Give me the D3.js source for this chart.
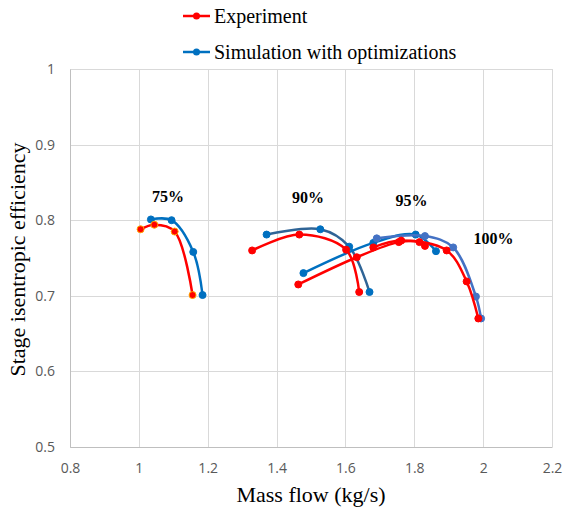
<!DOCTYPE html>
<html><head><meta charset="utf-8">
<script src="https://cdn.jsdelivr.net/npm/d3@7"></script>
<style>
html,body{margin:0;padding:0;background:#fff;}
svg{display:block;}
</style></head>
<body>
<svg id="chart" width="569" height="510"></svg>
<script>
// ---- data ----
const xTicks = [0.8, 1, 1.2, 1.4, 1.6, 1.8, 2, 2.2];
const yTicks = [0.5, 0.6, 0.7, 0.8, 0.9, 1];
const xTickLabels = ["0.8", "1", "1.2", "1.4", "1.6", "1.8", "2", "2.2"];
const yTickLabels = ["0.5", "0.6", "0.7", "0.8", "0.9", "1"];

const exp75 = [[1.005, 0.788], [1.045, 0.794], [1.104, 0.785], [1.156, 0.701]];
const sim75 = [[1.035, 0.801], [1.095, 0.800], [1.158, 0.758], [1.185, 0.701]];
const exp90 = [[1.329, 0.760], [1.466, 0.781], [1.602, 0.761], [1.640, 0.705]];
const sim90 = [[1.371, 0.781], [1.527, 0.788], [1.611, 0.765], [1.670, 0.705]];
const exp95 = [[1.463, 0.715], [1.633, 0.751], [1.755, 0.771], [1.815, 0.771], [1.831, 0.766]];
const sim95 = [[1.478, 0.730], [1.681, 0.770], [1.804, 0.781], [1.863, 0.759]];
const exp100 = [[1.681, 0.764], [1.762, 0.773], [1.894, 0.760], [1.952, 0.719], [1.986, 0.670]];
const sim100 = [[1.691, 0.776], [1.831, 0.779], [1.913, 0.764], [1.979, 0.699], [1.994, 0.670]];

const speedLabels = ["75%", "90%", "95%", "100%"];
const speedLabelPos = [[1.085, 0.824], [1.491, 0.8225], [1.792, 0.819], [2.03, 0.768]];

const legendLabels = ["Experiment", "Simulation with optimizations"];
const xTitle = "Mass flow (kg/s)";
const yTitle = "Stage isentropic efficiency";

// ---- chart ----
const svg = d3.select("#chart");
const x = d3.scaleLinear().domain([0.8, 2.2]).range([70, 552]);
const y = d3.scaleLinear().domain([0.5, 1]).range([447, 69]);

const grid = "#d9d9d9";
svg.append("g").selectAll("line").data(yTicks).join("line")
  .attr("x1", x(0.8)).attr("x2", x(2.2))
  .attr("y1", d => Math.round(y(d)) + 0.5).attr("y2", d => Math.round(y(d)) + 0.5)
  .attr("stroke", grid).attr("stroke-width", 1);
svg.append("g").selectAll("line").data(xTicks).join("line")
  .attr("y1", y(0.5)).attr("y2", y(1))
  .attr("x1", d => Math.round(x(d)) + 0.5).attr("x2", d => Math.round(x(d)) + 0.5)
  .attr("stroke", grid).attr("stroke-width", 1);

const xAxis = d3.axisBottom(x).tickValues(xTicks).tickSize(0).tickPadding(16)
  .tickFormat((d, i) => xTickLabels[i]);
const yAxis = d3.axisLeft(y).tickValues(yTicks).tickSize(0).tickPadding(15)
  .tickFormat((d, i) => yTickLabels[i]);
const gx = svg.append("g").attr("transform", `translate(0,${y(0.5)})`).call(xAxis);
const gy = svg.append("g").attr("transform", `translate(${x(0.8)},0)`).call(yAxis);
[gx, gy].forEach(g => {
  g.select(".domain").attr("stroke", "#bfbfbf");
  g.selectAll("text").attr("fill", "#595959")
    .style("font-family", "'Open Sans', 'Liberation Sans', sans-serif").style("font-size", "14px");
});

const line = d3.line().x(d => x(d[0])).y(d => y(d[1])).curve(d3.curveCatmullRom.alpha(0.5));
const series = [
  {data: sim75, line: "#0070c0", fill: "#0070c0", stroke: "#0070c0"},
  {data: sim90, line: "#2f6496", fill: "#0070c0", stroke: "#0070c0"},
  {data: sim95, line: "#0070c0", fill: "#0070c0", stroke: "#0070c0"},
  {data: sim100, line: "#4472c4", fill: "#4472c4", stroke: "#4472c4"},
  {data: exp75, line: "#ff0000", fill: "#ff0000", stroke: "#ffa500"},
  {data: exp90, line: "#ff0000", fill: "#ff0000", stroke: "#ff0000"},
  {data: exp95, line: "#ff0000", fill: "#ff0000", stroke: "#ff0000"},
  {data: exp100, line: "#ff0000", fill: "#ff0000", stroke: "#ff0000"}
];
series.forEach(s => {
  const g = svg.append("g");
  g.append("path").datum(s.data).attr("d", line)
    .attr("fill", "none").attr("stroke", s.line).attr("stroke-width", 2.5);
  g.selectAll("circle").data(s.data).join("circle")
    .attr("cx", d => x(d[0])).attr("cy", d => y(d[1])).attr("r", 3.5)
    .attr("fill", s.fill).attr("stroke", s.stroke).attr("stroke-width", 1);
});

svg.append("g").selectAll("text").data(speedLabels).join("text")
  .attr("x", (d, i) => x(speedLabelPos[i][0])).attr("y", (d, i) => y(speedLabelPos[i][1]))
  .attr("text-anchor", "middle")
  .style("font-family", "'Liberation Serif', 'Times New Roman', serif")
  .style("font-weight", "bold").style("font-size", "16px").attr("fill", "#000")
  .text(d => d);

const legColors = ["#ff0000", "#0070c0"];
const legY = [16, 52];
const leg = svg.append("g");
legendLabels.forEach((t, i) => {
  leg.append("line").attr("x1", 183).attr("x2", 210).attr("y1", legY[i]).attr("y2", legY[i])
    .attr("stroke", legColors[i]).attr("stroke-width", 2.5);
  leg.append("circle").attr("cx", 196.5).attr("cy", legY[i]).attr("r", 3.5).attr("fill", legColors[i]);
  leg.append("text").attr("x", 214).attr("y", legY[i] + 7)
    .style("font-family", "'Liberation Serif', 'Times New Roman', serif").style("font-size", "20px")
    .attr("fill", "#000").text(t);
});

svg.append("text").attr("x", 311).attr("y", 502).attr("text-anchor", "middle")
  .style("font-family", "'Liberation Serif', 'Times New Roman', serif").style("font-size", "22px")
  .text(xTitle);
svg.append("text").attr("transform", `translate(25,${(132 + 387) / 2}) rotate(-90)`).attr("text-anchor", "middle")
  .style("font-family", "'Liberation Serif', 'Times New Roman', serif").style("font-size", "22px")
  .text(yTitle);
</script>
</body></html>
